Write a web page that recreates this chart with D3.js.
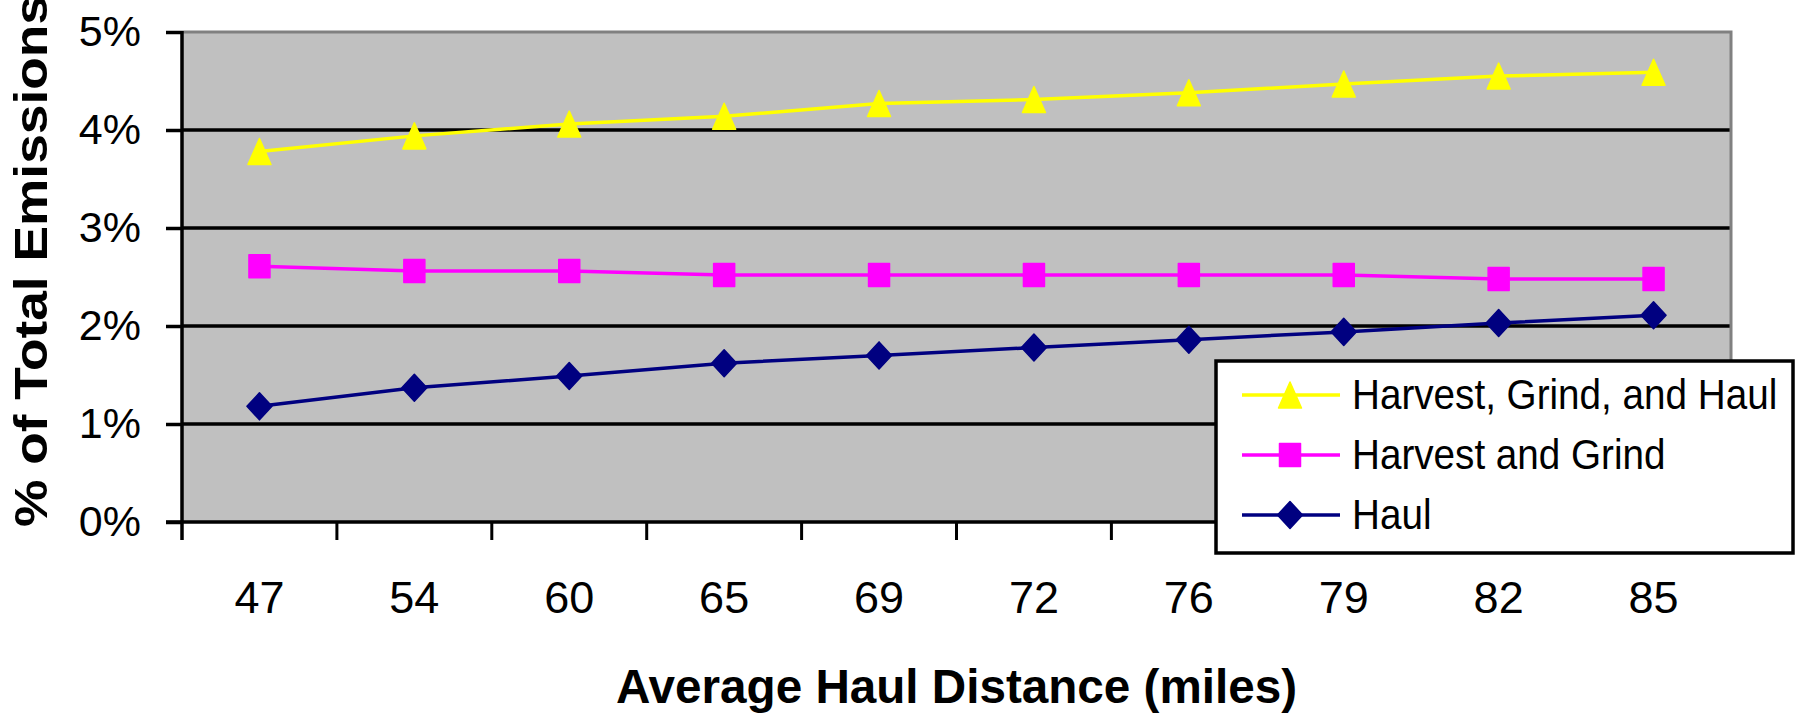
<!DOCTYPE html>
<html>
<head>
<meta charset="utf-8">
<script src="https://cdn.jsdelivr.net/npm/d3@7"></script>
<style>
  body { margin: 0; background: #fff; }
  text { font-family: "Liberation Sans", Arial, sans-serif; }
</style>
</head>
<body>
<div id="chart-div"></div>
<script>
var distances = ["47", "54", "60", "65", "69", "72", "76", "79", "82", "85"];
var harvestGrindHaul = [0.0378, 0.0394, 0.0406, 0.0414, 0.0427, 0.0431, 0.0438, 0.0447, 0.0455, 0.0459];
var harvestGrind = [0.0261, 0.0256, 0.0256, 0.0252, 0.0252, 0.0252, 0.0252, 0.0252, 0.0248, 0.0248];
var haul = [0.0118, 0.0137, 0.0149, 0.0162, 0.0170, 0.0178, 0.0186, 0.0194, 0.0203, 0.0211];
var yTicks = [0, 0.01, 0.02, 0.03, 0.04, 0.05];

var props = {
  width: 1796,
  height: 713,
  left: 182,
  right: 1731,
  top: 32,
  bottom: 522
}

// marker shapes, fixed size boxes (w x h)
function triangleType(w, h){
  return {draw: function(ctx){
    ctx.moveTo(0, -h/2); ctx.lineTo(w/2, h/2); ctx.lineTo(-w/2, h/2); ctx.closePath();
  }};
}
function squareType(w, h){
  return {draw: function(ctx){ ctx.rect(-w/2, -h/2, w, h); }};
}
function diamondType(w, h){
  return {draw: function(ctx){
    ctx.moveTo(0, -h/2); ctx.lineTo(w/2, 0); ctx.lineTo(0, h/2); ctx.lineTo(-w/2, 0); ctx.closePath();
  }};
}

var series = [
  {name: "Harvest, Grind, and Haul", values: harvestGrindHaul, color: "#FFFF00", shape: triangleType(23, 26)},
  {name: "Harvest and Grind", values: harvestGrind, color: "#FF00FF", shape: squareType(21, 23)},
  {name: "Haul", values: haul, color: "#000080", shape: diamondType(25, 27)}
];

var svg = d3.select("#chart-div").append("svg").attr("width", props.width).attr("height", props.height);

var xScale = d3.scaleBand().domain(distances).range([props.left, props.right]).padding(0);
var yScale = d3.scaleLinear().domain([0, 0.05]).range([props.bottom, props.top]);

// plot area
svg.append("rect")
  .attr("x", props.left).attr("y", props.top)
  .attr("width", props.right - props.left).attr("height", props.bottom - props.top)
  .style("fill", "#C0C0C0");

// gridlines
svg.selectAll(".grid")
  .data(yTicks.filter(function(d){return d > 0 && d < 0.05}))
  .enter().append("line")
  .attr("class", "grid")
  .attr("x1", props.left).attr("x2", props.right)
  .attr("y1", function(d){return yScale(d)}).attr("y2", function(d){return yScale(d)})
  .style("stroke", "#000").style("stroke-width", 3.5);

// gray border top + right
svg.append("path")
  .attr("d", "M" + props.left + "," + yScale(0.05) + "H" + props.right + "V" + props.bottom)
  .style("fill", "none").style("stroke", "#808080").style("stroke-width", 3);

// y axis
var yAxis = d3.axisLeft(yScale).tickValues(yTicks).tickFormat(d3.format(".0%")).tickSize(16).tickPadding(25);
var gy = svg.append("g").attr("transform", "translate(" + props.left + ",0)").call(yAxis);
gy.select(".domain").remove();
gy.selectAll(".tick line").style("stroke", "#000").style("stroke-width", 3.5);
gy.selectAll(".tick text").style("font-size", "43px").style("fill", "#000");
svg.append("line")
  .attr("x1", props.left).attr("x2", props.left)
  .attr("y1", props.top - 1).attr("y2", props.bottom + 18)
  .style("stroke", "#000").style("stroke-width", 3.5);

// x axis
var xAxis = d3.axisBottom(xScale).tickSize(0).tickPadding(59);
var gx = svg.append("g").attr("transform", "translate(0," + props.bottom + ")").call(xAxis);
gx.select(".domain").remove();
gx.selectAll(".tick text").style("font-size", "45px").style("fill", "#000");
svg.append("line")
  .attr("x1", props.left - 16).attr("x2", props.right)
  .attr("y1", props.bottom).attr("y2", props.bottom)
  .style("stroke", "#000").style("stroke-width", 3.5);
var bounds = distances.map(function(d){return xScale(d)}).concat([xScale.range()[1]]);
svg.selectAll(".xtick")
  .data(bounds.slice(1))
  .enter().append("line")
  .attr("class", "xtick")
  .attr("x1", function(d){return d}).attr("x2", function(d){return d})
  .attr("y1", props.bottom).attr("y2", props.bottom + 18)
  .style("stroke", "#000").style("stroke-width", 3);

// axis titles
svg.append("text")
  .attr("x", (props.left + props.right) / 2).attr("y", 703)
  .attr("text-anchor", "middle")
  .attr("textLength", 681).attr("lengthAdjust", "spacingAndGlyphs")
  .style("font-size", "48px").style("font-weight", "bold")
  .text("Average Haul Distance (miles)");

svg.append("text")
  .attr("transform", "translate(47,261) rotate(-90)")
  .attr("text-anchor", "middle")
  .attr("textLength", 532).attr("lengthAdjust", "spacingAndGlyphs")
  .style("font-size", "47px").style("font-weight", "bold")
  .text("% of Total Emissions");

// lines + markers
var lineGenerator = d3.line()
  .x(function(d, i){return xScale(distances[i]) + xScale.bandwidth() / 2})
  .y(function(d){return yScale(d)});

series.forEach(function(s){
  svg.append("path")
    .attr("d", lineGenerator(s.values))
    .style("fill", "none").style("stroke", s.color).style("stroke-width", 3.5);
  svg.selectAll(null)
    .data(s.values)
    .enter().append("path")
    .attr("d", d3.symbol().type(s.shape))
    .attr("transform", function(d, i){return "translate(" + (xScale(distances[i]) + xScale.bandwidth() / 2) + "," + yScale(d) + ")"})
    .style("fill", s.color).style("stroke", s.color).style("stroke-width", 1.5).style("stroke-linejoin", "round");
});

// legend
var legend = svg.append("g").attr("transform", "translate(1216,361)");
legend.append("rect")
  .attr("width", 577).attr("height", 192)
  .style("fill", "#fff").style("stroke", "#000").style("stroke-width", 3.5);

var items = legend.selectAll(".legend-item")
  .data(series)
  .enter().append("g")
  .attr("class", "legend-item")
  .attr("transform", function(d, i){return "translate(0," + (34 + i * 60) + ")"});

items.append("line")
  .attr("x1", 26).attr("x2", 124)
  .style("stroke", function(d){return d.color}).style("stroke-width", 3.5);
items.append("path")
  .attr("d", function(d){return d3.symbol().type(d.shape)()})
  .attr("transform", "translate(74,0)")
  .style("fill", function(d){return d.color}).style("stroke", function(d){return d.color})
  .style("stroke-width", 1.5).style("stroke-linejoin", "round");
items.append("text")
  .attr("x", 136).attr("y", 14)
  .style("font-size", "42px")
  .text(function(d){return d.name})
  .each(function(){
    var len = this.getComputedTextLength();
    d3.select(this).attr("textLength", len * 0.92).attr("lengthAdjust", "spacingAndGlyphs");
  });
</script>
</body>
</html>
